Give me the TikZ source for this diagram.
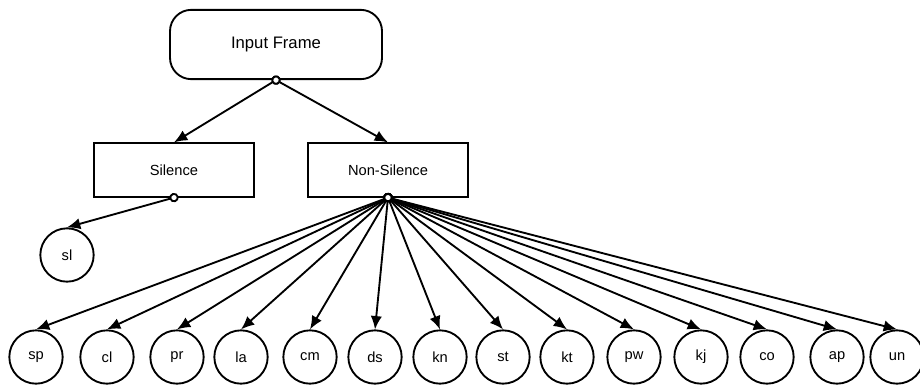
\documentclass[tikz,border=0pt]{standalone}
\usepackage{fontspec}
\setmainfont{Liberation Sans}
\usetikzlibrary{arrows.meta}
\tikzset{>={Latex[length=10pt,width=8.5pt]}}
\tikzset{
  box/.style={draw, line width=1.4pt, minimum width=120pt, minimum height=40pt,
    inner sep=0pt, font=\fontsize{11}{13}\selectfont},
  leaf/.style={draw, circle, line width=1.4pt, minimum size=40pt, inner sep=0pt,
    font=\fontsize{11}{13}\selectfont},
  link/.style={{Circle[fill=white,length=7pt,width=7pt]}->, line width=1.4pt,
    shorten <=-3.5pt}
}

\begin{document}
\begin{tikzpicture}[x=0.75pt, y=-0.75pt]
  \useasboundingbox (0,0) rectangle (920,385);
  \node[draw, line width=1.4pt, rounded corners=16pt, minimum width=159pt,
    minimum height=52pt, font=\fontsize{12.5}{15}\selectfont] (frame) at (276,44.5) {Input Frame};
  \node[box] (sil) at (174,170) {Silence};
  \node[box] (nonsil) at (388,170) {Non-Silence};
  \node[leaf] (sl) at (67,255) {sl};
  % one leaf per class under Non-Silence
  \foreach \lbl/\x in {sp/36, cl/107, pr/177, la/241, cm/310, ds/375, kn/440,
      st/503, kt/567, pw/634, kj/701, co/767, ap/837, un/897}
    \node[leaf] (\lbl) at (\x,357) {\lbl};

  \draw[link] (frame.south) -- (sil.north);
  \draw[link] (frame.south) -- (nonsil.north);
  \draw[link] (sil.south) -- (sl.north);
  \foreach \lbl in {sp, cl, pr, la, cm, ds, kn, st, kt, pw, kj, co, ap, un}
    \draw[link] (nonsil.south) -- (\lbl.north);
\end{tikzpicture}
\end{document}
